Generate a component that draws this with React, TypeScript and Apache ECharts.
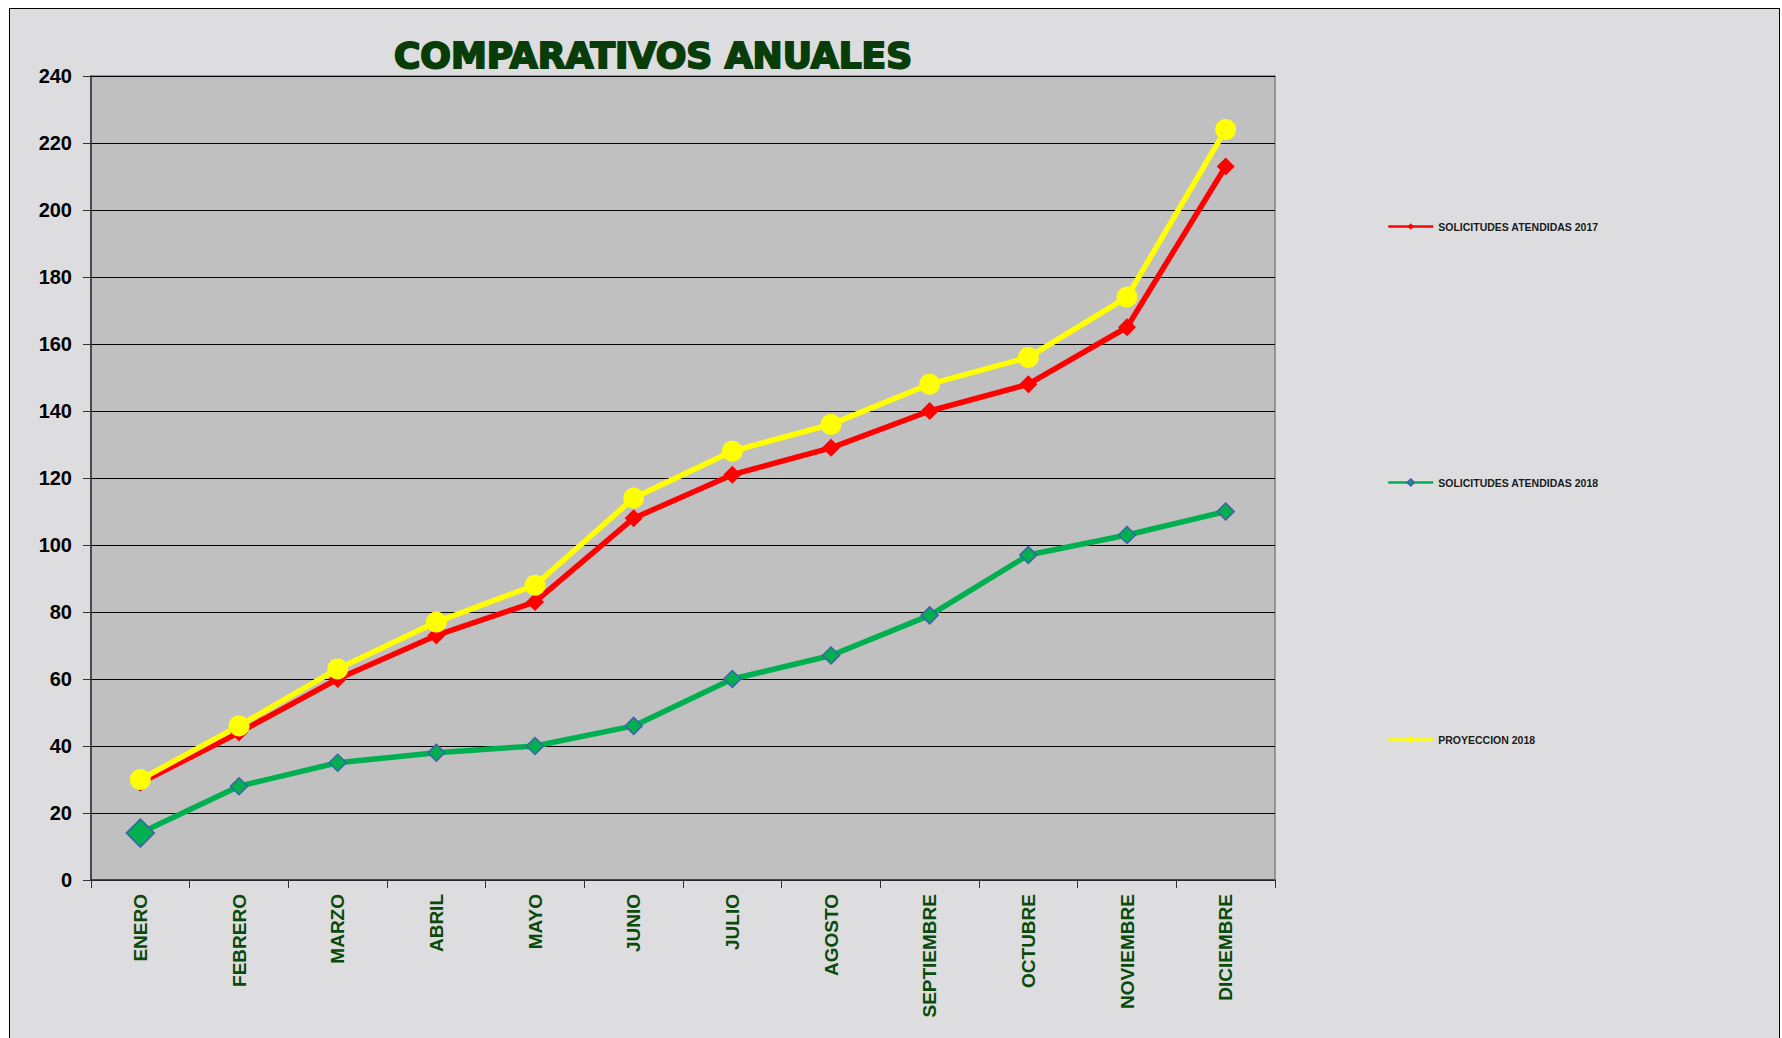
import React, { useEffect, useRef } from "react";
import * as echarts from "echarts";

const months = ["ENERO", "FEBRERO", "MARZO", "ABRIL", "MAYO", "JUNIO", "JULIO", "AGOSTO", "SEPTIEMBRE", "OCTUBRE", "NOVIEMBRE", "DICIEMBRE"];
const atendidas2017 = [29, 44, 60, 73, 83, 108, 121, 129, 140, 148, 165, 213];
const atendidas2018 = [14, 28, 35, 38, 40, 46, 60, 67, 79, 97, 103, 110];
const proyeccion2018 = [30, 46, 63, 77, 88, 114, 128, 136, 148, 156, 174, 224];
const seriesNames = ["SOLICITUDES ATENDIDAS 2017", "SOLICITUDES ATENDIDAS 2018", "PROYECCION 2018"];
const titleText = "COMPARATIVOS ANUALES";

export default function App() {
  const ref = useRef<HTMLDivElement>(null);
  useEffect(() => {
    if (!ref.current) return;
    const chart = echarts.init(ref.current, undefined, { renderer: "svg" });
    const legendBase = {
      orient: "vertical",
      left: 1377,
      padding: 0,
      itemWidth: 45,
      itemHeight: 8,
      itemGap: 4,
      textStyle: { fontFamily: "Liberation Sans", fontWeight: "bold", fontSize: 10.5, color: "#1a1a1a" },
      lineStyle: { width: 2.5 },
    };
    chart.setOption({
      animation: false,
      backgroundColor: "#DDDDDF",
      graphic: [
        {
          type: "text",
          x: 643,
          y: 46,
          style: {
            text: titleText,
            fill: "#083C08",
            stroke: "#083C08",
            lineWidth: 2,
            font: "bold 36px 'DejaVu Sans'",
            textAlign: "center",
            textVerticalAlign: "middle",
          },
        },
      ],
      legend: [
        { ...legendBase, top: 212, data: [seriesNames[0]] },
        { ...legendBase, top: 468, data: [seriesNames[1]] },
        { ...legendBase, top: 725, data: [seriesNames[2]] },
      ],
      grid: {
        left: 81,
        top: 67,
        width: 1184,
        height: 804,
        show: true,
        backgroundColor: "#C0C0C0",
        borderColor: "#808080",
        borderWidth: 1.5,
      },
      xAxis: {
        type: "category",
        data: months,
        boundaryGap: true,
        axisLine: { show: true, lineStyle: { color: "#333", width: 1.5 } },
        axisTick: { show: true, length: 8, lineStyle: { color: "#333" } },
        axisLabel: {
          rotate: 90,
          margin: 14,
          interval: 0,
          color: "#0A4A0A",
          fontFamily: "Liberation Sans",
          fontWeight: "bold",
          fontSize: 19,
        },
      },
      yAxis: {
        type: "value",
        min: 0,
        max: 240,
        interval: 20,
        axisLine: { show: true, lineStyle: { color: "#333", width: 1.5 } },
        axisTick: { show: true, length: 8, lineStyle: { color: "#333" } },
        axisLabel: {
          margin: 19,
          color: "#000",
          fontFamily: "Liberation Sans",
          fontWeight: "bold",
          fontSize: 20,
        },
        splitLine: { show: true, lineStyle: { color: "#000", width: 1 } },
      },
      series: [
        {
          name: seriesNames[0],
          type: "line",
          data: atendidas2017,
          symbol: "diamond",
          symbolSize: 18,
          color: "#FF0000",
          lineStyle: { color: "#FF0000", width: 5.5 },
          itemStyle: { color: "#FF0000" },
        },
        {
          name: seriesNames[1],
          type: "line",
          data: atendidas2018.map((v, i) => (i === 0 ? { value: v, symbolSize: 28 } : v)),
          symbol: "diamond",
          symbolSize: 17,
          color: "#00B050",
          lineStyle: { color: "#00B050", width: 5.5 },
          itemStyle: { color: "#00B050", borderColor: "#3D62A8", borderWidth: 1.5 },
        },
        {
          name: seriesNames[2],
          type: "line",
          data: proyeccion2018,
          symbol: "circle",
          symbolSize: 21,
          color: "#FFFF00",
          lineStyle: { color: "#FFFF00", width: 5.5 },
          itemStyle: { color: "#FFFF00" },
        },
      ],
    });
    return () => chart.dispose();
  }, []);
  return (
    <div
      ref={ref}
      style={{
        position: "fixed",
        left: 9,
        top: 8,
        width: 1769,
        height: 1030,
        borderLeft: "1px solid #000",
        borderTop: "1px solid #000",
        borderRight: "1px solid #000",
      }}
    />
  );
}
